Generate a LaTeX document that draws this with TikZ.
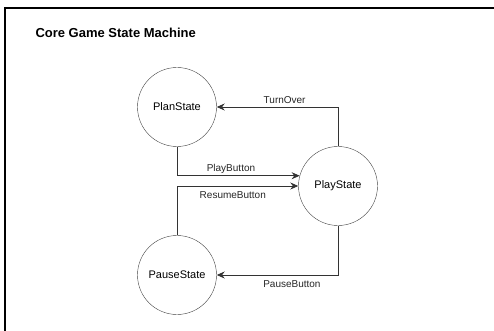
\documentclass[tikz,border=0pt]{standalone}
\usepackage{fontspec}
\setmainfont{Liberation Sans}
\usepackage{tikz}
\usetikzlibrary{calc,automata,positioning,arrows.meta}
\tikzset{
every state/.style={draw=black!75, thin, minimum size=79pt, inner sep=0pt, font=\fontsize{11}{13}\selectfont}, % state circles
trans/.style={draw=black!80, line width=0.9pt, -{Stealth[length=8pt,width=7pt]}, to path={|- (\tikztotarget) \tikztonodes}}, % orthogonal transitions
lbl/.style={font=\fontsize{10}{12}\selectfont, text=black!85, inner sep=2pt},
}

\begin{document}
\begin{tikzpicture}[x=1pt,y=-1pt]
   \useasboundingbox (0,0) rectangle (494,331);
   % frame
   \draw[line width=1.4pt] (494,8) -- (5,8) -- (5,331);
   \node[anchor=west, font=\bfseries\fontsize{13}{15}\selectfont] (title) at (32,33) {Core Game State Machine};
   \node[state] (plan)  at (177,107) {PlanState};
   \node[state] (play)  at (338,186) {PlayState};
   \node[state] (pause) at (177,275) {PauseState};
    \path
    (play)  edge[trans] node[lbl, pos=0.72, above=1pt] {TurnOver} (plan)
    (plan)  edge[trans] node[lbl, pos=0.72, above] {PlayButton} (play.165)
    (pause) edge[trans] node[lbl, pos=0.73, below=3pt] {ResumeButton} (play)
    (play)  edge[trans] node[lbl, pos=0.69, below=3pt] {PauseButton} (pause);
\end{tikzpicture}
\end{document}
